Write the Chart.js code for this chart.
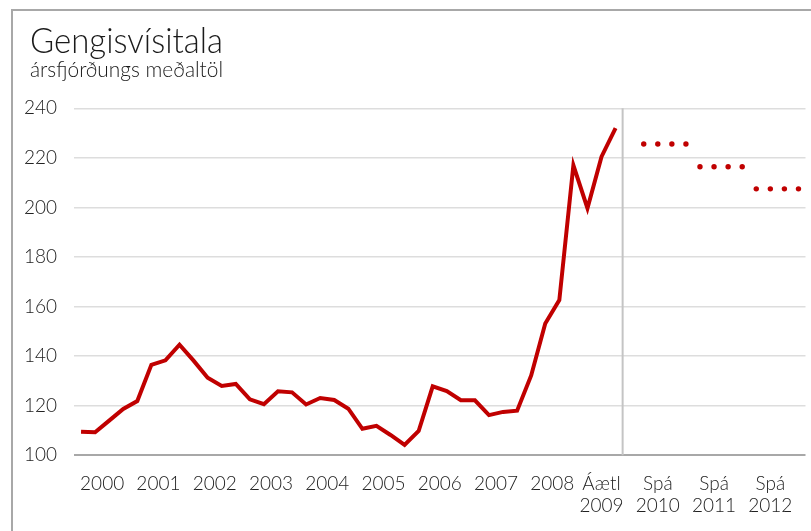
<!DOCTYPE html>
<html><head><meta charset="utf-8">
<script src="https://cdn.jsdelivr.net/npm/chart.js@4/dist/chart.umd.min.js"></script>
<style>html,body{margin:0;padding:0;background:#fff;overflow:hidden}canvas{display:block}</style>
</head><body>
<canvas id="c" width="811" height="531"></canvas>
<script>
// ---- data ----
const titleText = 'Gengisvísitala';
const subtitleText = 'ársfjórðungs meðaltöl';
const yearLabels = [['2000'],['2001'],['2002'],['2003'],['2004'],['2005'],['2006'],['2007'],['2008'],['Áætl','2009'],['Spá','2010'],['Spá','2011'],['Spá','2012']];
// quarterly averages, 2000 Q1 .. 2009 Q3
const actualQuarterly = [109.5, 109.3, 114.0, 118.7, 121.9, 136.5, 138.3, 144.6, 138.2, 131.3,
  128.0, 128.8, 122.6, 120.6, 125.8, 125.4, 120.5, 123.1, 122.3, 118.8,
  110.7, 111.9, 108.2, 104.2, 109.8, 127.8, 125.9, 122.2, 122.2, 116.2,
  117.5, 118.0, 132.2, 153.2, 162.6, 217.0, 199.7, 220.5, 232.0];
// forecasts, 2010 Q1 .. 2012 Q4
const forecastQuarterly = [225.6, 225.6, 225.6, 225.6, 216.4, 216.4, 216.4, 216.4, 207.5, 207.5, 207.5, 207.5];
const forecastStartQuarter = 40; // 2010 Q1
const yTickValues = [100, 120, 140, 160, 180, 200, 220, 240];

// ---- chart ----
const totalQuarters = yearLabels.length * 4;
const RED = '#c00000';
const FONT = 'Lato, "Liberation Sans", Arial, sans-serif';

const actualPts = actualQuarterly.map((v, i) => ({x: i, y: v}));
const forecastPts = forecastQuarterly.map((v, i) => ({x: forecastStartQuarter + i, y: v}));

const decor = {
  id: 'decor',
  beforeDraw(chart) {
    const ctx = chart.ctx;
    ctx.save();
    ctx.fillStyle = '#fff';
    ctx.fillRect(0, 0, chart.width, chart.height);
    ctx.strokeStyle = '#a8a8a8';
    ctx.lineWidth = 2;
    ctx.beginPath();
    ctx.moveTo(12, chart.height);
    ctx.lineTo(12, 10);
    ctx.lineTo(chart.width, 10);
    ctx.stroke();
    ctx.fillStyle = '#1a1a1a';
    ctx.textBaseline = 'alphabetic';
    ctx.textAlign = 'left';
    ctx.font = '300 35px ' + FONT;
    ctx.fillText(titleText, 30, 53, 193);
    ctx.font = '300 21px ' + FONT;
    ctx.fillText(subtitleText, 30, 77, 193);
    ctx.restore();
  },
  beforeDatasetsDraw(chart) {
    const ctx = chart.ctx, xs = chart.scales.x, a = chart.chartArea;
    const px = xs.getPixelForValue(actualQuarterly.length - 0.5);
    ctx.save();
    ctx.strokeStyle = '#c4c4c4';
    ctx.lineWidth = 2;
    ctx.beginPath();
    ctx.moveTo(px, a.top);
    ctx.lineTo(px, a.bottom);
    ctx.stroke();
    ctx.restore();
  }
};

new Chart(document.getElementById('c'), {
  type: 'line',
  data: {
    datasets: [
      {data: actualPts, borderColor: RED, borderWidth: 4, pointRadius: 0, tension: 0, fill: false},
      {data: forecastPts, showLine: false, pointRadius: 2.7, pointBackgroundColor: RED, pointBorderWidth: 0, borderColor: RED}
    ]
  },
  options: {
    responsive: false,
    animation: false,
    layout: {padding: {left: 0, right: 5.5, top: 108.3, bottom: 0}},
    plugins: {legend: {display: false}, tooltip: {enabled: false}, title: {display: false}},
    scales: {
      x: {
        type: 'linear', min: -0.5, max: totalQuarters - 0.5,
        grid: {display: false, drawTicks: false},
        border: {display: false},
        afterBuildTicks(scale) {
          scale.ticks = yearLabels.map((l, k) => ({value: k * 4 + (k >= 9 ? 1 : 1.5)}));
        },
        afterFit(scale) { scale.height = 531 - 455.3; },
        ticks: {
          autoSkip: false, maxRotation: 0, minRotation: 0, padding: 18,
          color: '#222', font: {family: FONT, size: 19, weight: 300, lineHeight: 1.13},
          callback: (v, i) => yearLabels[i]
        }
      },
      y: {
        min: 100, max: 240,
        afterBuildTicks(scale) { scale.ticks = yTickValues.map(v => ({value: v})); },
        afterFit(scale) { scale.width = 74; },
        grid: {
          drawTicks: false,
          color: c => c.tick && c.tick.value === 100 ? '#a8a8a8' : '#dddddd',
          lineWidth: c => c.tick && c.tick.value === 100 ? 2 : 1.5
        },
        border: {display: false},
        ticks: {padding: 17, color: '#222', font: {family: FONT, size: 19, weight: 300}}
      }
    }
  },
  plugins: [decor]
});
</script>
</body></html>
